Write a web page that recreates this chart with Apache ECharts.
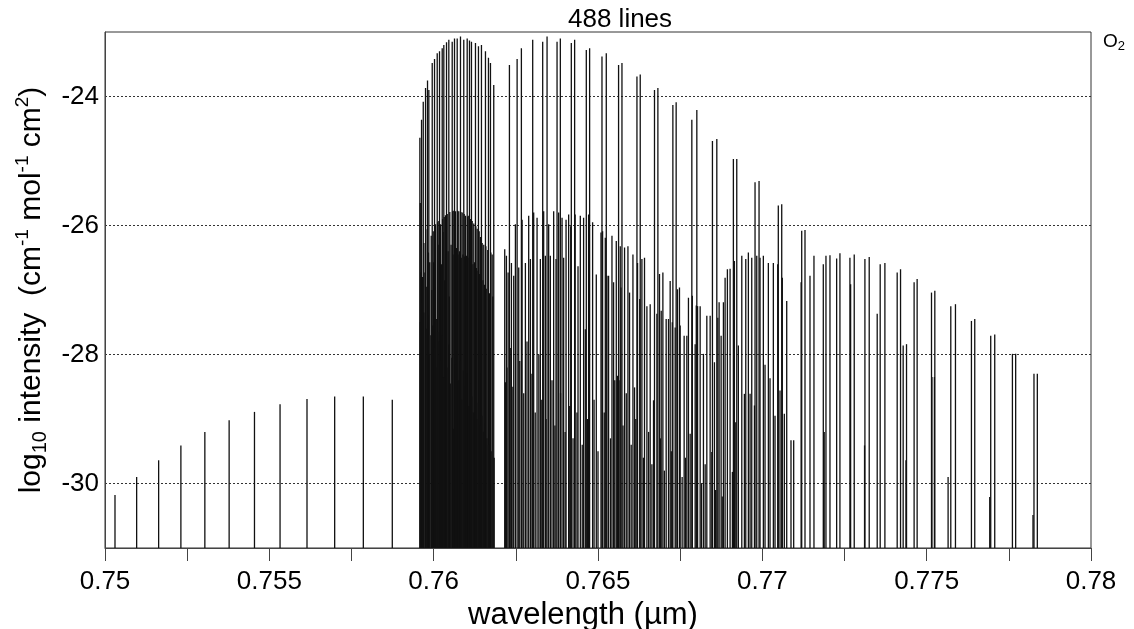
<!DOCTYPE html>
<html><head><meta charset="utf-8">
<script src="https://cdn.jsdelivr.net/npm/echarts@6/dist/echarts.min.js"></script>
<style>html,body{margin:0;padding:0;background:#fff}#chart{width:1134px;height:629px}</style>
</head><body><div id="chart"></div>
<script>
// ---------- data (wavelength in µm, log10 intensity) ----------
const titleText = '488 lines';
const moleculeLabel = 'O2';
const xTickLabels = ['0.75', '0.755', '0.76', '0.765', '0.77', '0.775', '0.78'];
const yTickLabels = ['-30', '-28', '-26', '-24'];

// weak lines left of the band
const weakWl = [0.750304, 0.750963, 0.751632, 0.752309, 0.753038, 0.753777, 0.754548, 0.755326, 0.756146, 0.756988, 0.757860, 0.758741];
const weakLog = [-30.18, -29.90, -29.64, -29.41, -29.20, -29.02, -28.89, -28.77, -28.69, -28.65, -28.65, -28.70];

// strong lines of the main band (R branch, P branch, high-J tail)
const mainWl = [
  0.759580, 0.759631, 0.759683, 0.759753, 0.759813, 0.759853, 0.759956, 0.760026, 0.760108, 0.760178,
  0.760260, 0.760309, 0.760391, 0.760461, 0.760564, 0.760634, 0.760716, 0.760816, 0.760916, 0.761020,
  0.761090, 0.761150, 0.761272, 0.761363, 0.761454, 0.761576, 0.761667, 0.761728, 0.761828,
  0.762305, 0.762539, 0.762669, 0.763013, 0.763317, 0.763450, 0.763754, 0.763854, 0.764188, 0.764289,
  0.764644, 0.764745, 0.765121, 0.765252, 0.765626, 0.765729, 0.766185, 0.766285, 0.766719, 0.766822,
  0.767278, 0.767378, 0.767855, 0.768007, 0.768482, 0.768615, 0.769119, 0.769222, 0.769778, 0.769900,
  0.770486, 0.770590, 0.771198, 0.771298, 0.771450, 0.771571,
  0.771855, 0.771936, 0.772058, 0.772261, 0.772361, 0.772665, 0.772686, 0.772796, 0.773121, 0.773252,
  0.773495, 0.773586, 0.773729, 0.774103, 0.774205, 0.774285, 0.774387, 0.774618, 0.774710, 0.775147,
  0.775248, 0.775734, 0.775876, 0.776362, 0.776463, 0.776949, 0.777071, 0.777609, 0.777708, 0.778265,
  0.778367
];
const mainLog = [
  -24.64, -24.36, -24.08, -23.87, -23.75, -23.90, -23.48, -23.42, -23.33, -23.30,
  -23.25, -23.20, -23.16, -23.12, -23.15, -23.10, -23.10, -23.07, -23.12, -23.10,
  -23.13, -23.15, -23.17, -23.22, -23.20, -23.30, -23.40, -23.48, -23.82,
  -23.51, -23.42, -23.25, -23.12, -23.15, -23.07, -23.15, -23.10, -23.17, -23.12,
  -23.28, -23.25, -23.38, -23.33, -23.51, -23.48, -23.69, -23.66, -23.90, -23.87,
  -24.13, -24.09, -24.36, -24.21, -24.69, -24.66, -24.97, -24.97, -25.33, -25.31,
  -25.69, -25.67, -26.08, -26.07, -26.78, -26.47,
  -26.60, -26.47, -26.46, -26.51, -26.43, -26.50, -26.91, -26.45, -26.52, -26.49,
  -27.37, -26.60, -26.58, -26.73, -26.68, -27.86, -27.84, -26.88, -26.83, -27.04,
  -27.01, -27.25, -27.22, -27.48, -27.45, -27.71, -27.69, -27.99, -27.99, -28.30,
  -28.30
];

// medium lines (isotopologue / secondary envelopes)
const isoWl = [
  0.759592, 0.759702, 0.759804, 0.759926, 0.759987, 0.760057, 0.760120, 0.760158, 0.760209, 0.760272,
  0.760321, 0.760360, 0.760412, 0.760491, 0.760576, 0.760613, 0.760664, 0.760728, 0.760764, 0.760828,
  0.760868, 0.760928, 0.760968, 0.761032, 0.761068, 0.761120, 0.761172, 0.761220, 0.761284, 0.761324,
  0.761384, 0.761424, 0.761476, 0.761524, 0.761588, 0.761646, 0.761740, 0.761780,
  0.759610, 0.759660, 0.759735, 0.759790, 0.759840, 0.759880, 0.759940, 0.760000, 0.760040, 0.760080,
  0.760135, 0.760185, 0.760235, 0.760285, 0.760335, 0.760385, 0.760440, 0.760475, 0.760530, 0.760590,
  0.760640, 0.760690, 0.760740, 0.760790, 0.760840, 0.760890, 0.760940, 0.760995, 0.761045, 0.761095,
  0.761145, 0.761195, 0.761245, 0.761300, 0.761350, 0.761400, 0.761450, 0.761500, 0.761550, 0.761600,
  0.761700, 0.761800,
  0.762162, 0.762214, 0.762265, 0.762366, 0.762436, 0.762487, 0.762588, 0.762691, 0.762791, 0.762891,
  0.762943, 0.763043, 0.763146, 0.763246, 0.763347, 0.763398, 0.763499, 0.763550, 0.763651, 0.763723,
  0.763803, 0.763906, 0.763955, 0.764028, 0.764107, 0.764170, 0.764305, 0.764392, 0.764462, 0.764562,
  0.764714, 0.764836,
  0.764948, 0.765091, 0.765140, 0.765222, 0.765273, 0.765322, 0.765425, 0.765474, 0.765556, 0.765677,
  0.765698, 0.765808, 0.765911, 0.765960, 0.766063, 0.766203, 0.766270, 0.766336, 0.766415, 0.766488,
  0.766588, 0.766792, 0.766871, 0.766923, 0.766974, 0.767074, 0.767145, 0.767196, 0.767260, 0.767348,
  0.767418, 0.767479, 0.767500, 0.767621, 0.767703, 0.767752, 0.767870, 0.767956, 0.768030,
  0.767990, 0.768108, 0.768311, 0.768412, 0.768646, 0.768685, 0.768746, 0.768816, 0.768867, 0.768937,
  0.769019, 0.769150, 0.769271, 0.769375, 0.769496, 0.769575, 0.769678, 0.769830, 0.769930, 0.770031,
  0.770183, 0.770335, 0.770468, 0.770608, 0.770742, 0.771180
];
const isoLog = [
  -25.65, -26.27, -26.06, -26.16, -26.09, -25.98, -25.95, -25.93, -25.98, -25.90,
  -25.87, -25.84, -25.82, -25.79, -25.78, -25.77, -25.78, -25.77, -25.78, -25.79,
  -25.80, -25.82, -25.85, -25.86, -25.85, -25.90, -25.93, -25.97, -26.01, -26.05,
  -26.09, -26.18, -26.27, -26.30, -26.32, -26.38, -26.42, -26.45,
  -26.73, -26.80, -26.73, -26.95, -26.42, -26.57, -27.00, -26.57, -26.94, -27.45,
  -26.30, -26.20, -26.60, -26.10, -26.85, -26.45, -26.40, -27.10, -26.30, -26.45,
  -26.42, -26.35, -26.45, -26.40, -26.50, -26.45, -26.48, -26.47, -26.50, -26.55,
  -26.52, -26.60, -26.57, -26.66, -26.70, -26.75, -28.30, -26.85, -26.92, -26.98,
  -27.05, -27.10,
  -26.37, -26.47, -26.73, -26.58, -26.78, -25.98, -26.65, -25.91, -26.58, -25.85,
  -26.52, -25.80, -25.88, -26.52, -25.78, -26.47, -25.98, -26.47, -25.78, -26.52,
  -25.80, -25.88, -26.50, -25.91, -25.83, -26.01, -25.83, -26.63, -25.85, -25.88,
  -25.83, -25.95,
  -26.76, -26.11, -26.09, -26.19, -26.78, -26.78, -26.16, -26.88, -26.24, -26.32,
  -26.96, -26.34, -26.32, -27.04, -26.45, -26.58, -27.14, -26.52, -26.50, -27.25,
  -27.22, -27.37, -26.75, -27.32, -26.73, -27.45, -27.45, -26.86, -27.50, -27.58,
  -26.99, -26.96, -27.55, -27.71, -27.71, -27.12, -27.09, -27.84, -27.25,
  -27.24, -27.25, -27.40, -27.40, -27.43, -27.19, -27.71, -27.19, -26.81, -26.68,
  -26.67, -26.55, -27.86, -26.47, -26.52, -26.42, -26.50, -26.47, -26.50, -26.47,
  -26.58, -26.58, -26.60, -26.81, -27.17, -26.88
];

// faint lines (lower tiers)
const faintWl = [
  0.759595, 0.759645, 0.759700, 0.759770, 0.759825, 0.759870, 0.759915, 0.759970, 0.760020, 0.760065,
  0.760120, 0.760170, 0.760215, 0.760250, 0.760300, 0.760350, 0.760400, 0.760455, 0.760505, 0.760555,
  0.760598, 0.760655, 0.760705, 0.760755, 0.760805, 0.760855, 0.760905, 0.760955, 0.761005, 0.761060,
  0.761110, 0.761160, 0.761210, 0.761260, 0.761310, 0.761360, 0.761410, 0.761465, 0.761515, 0.761565,
  0.761620, 0.761670, 0.761750, 0.761840,
  0.762183, 0.762230, 0.762330, 0.762410, 0.762620, 0.762740, 0.762840, 0.762990, 0.763090, 0.763200,
  0.763290, 0.763420, 0.763600, 0.763690, 0.763860, 0.764000, 0.764140, 0.764240, 0.764360, 0.764520,
  0.764614, 0.764680, 0.764880, 0.765000, 0.765190, 0.765380, 0.765510, 0.765595, 0.765610, 0.765640,
  0.765760, 0.765860, 0.766010, 0.766112, 0.766150, 0.766380, 0.766540, 0.766640, 0.766689, 0.766900,
  0.767020, 0.767230, 0.767560, 0.767660, 0.767804, 0.768150, 0.768208, 0.768260, 0.768463, 0.768543,
  0.768580, 0.768780,
  0.769089, 0.769192, 0.769454, 0.769627, 0.769760, 0.770082, 0.770234, 0.770386, 0.770538, 0.770669,
  0.770872, 0.770954,
  0.771868, 0.771880, 0.773110, 0.774370, 0.775160, 0.775235, 0.775652, 0.776919, 0.778235
];
const faintLog = [
  -27.50, -27.20, -27.35, -27.60, -27.40, -28.00, -27.70, -27.55, -27.90, -28.20,
  -27.65, -27.80, -28.10, -27.70, -28.35, -27.95, -28.20, -27.85, -28.45, -28.05,
  -29.15, -28.15, -27.95, -28.40, -28.10, -28.70, -28.25, -28.50, -28.30, -28.80,
  -28.45, -28.65, -28.90, -28.55, -29.00, -28.75, -29.10, -28.95, -29.20, -29.05,
  -29.30, -29.40, -29.50, -29.60,
  -28.43, -28.20, -27.90, -28.50, -28.10, -28.60, -27.80, -28.30, -28.90, -28.00,
  -28.70, -29.00, -28.40, -29.10, -28.60, -29.20, -28.80, -29.30, -28.90, -29.40,
  -27.61, -29.00, -28.70, -29.50, -28.90, -29.30, -28.40, -28.33, -28.35, -28.40,
  -29.10, -28.60, -29.40, -28.51, -29.00, -29.60, -29.20, -29.70, -28.71, -29.30,
  -29.80, -29.50, -29.90, -29.60, -29.23, -30.00, -27.99, -29.70, -29.51, -28.12,
  -30.10, -30.20,
  -29.82, -29.05, -28.61, -28.61, -28.79, -28.16, -28.37, -28.95, -28.56, -28.92,
  -29.33, -29.33,
  -29.20, -29.20, -29.41, -29.64, -28.35, -28.35, -29.90, -30.21, -30.49
];

// ---------- chart ----------
const FONT = '"Liberation Sans", Arial, Helvetica, sans-serif';
const Y_MIN = -31, Y_MAX = -23;

function pairs(w, v) { return w.map((x, i) => [x, v[i]]); }
const lineData = [].concat(pairs(weakWl, weakLog), pairs(mainWl, mainLog), pairs(isoWl, isoLog), pairs(faintWl, faintLog));

const chart = echarts.init(document.getElementById('chart'), null, { renderer: 'canvas' });
chart.setOption({
  animation: false,
  backgroundColor: '#fff',
  title: {
    text: titleText, left: 563, top: 2,
    textStyle: { fontFamily: FONT, fontSize: 26, fontWeight: 'normal', color: '#000' }
  },
  grid: {
    left: 105, right: 43, top: 32, bottom: 81, show: true, borderColor: '#333', borderWidth: 1,
    containLabel: false, outerBoundsMode: 'none'
  },
  xAxis: {
    type: 'value', min: 0.75, max: 0.78, interval: 0.0025,
    name: 'wavelength (µm)', nameLocation: 'middle', nameGap: 41,
    nameTextStyle: { fontFamily: FONT, fontSize: 31, color: '#000', padding: [0, 30, 0, 0] },
    axisLine: { show: true, onZero: false, lineStyle: { color: '#444', width: 1 } },
    axisTick: { show: true, length: 13, lineStyle: { color: '#444' } },
    axisLabel: {
      margin: 21, fontFamily: FONT, fontSize: 26, color: '#000', showMinLabel: true, showMaxLabel: true,
      formatter: function (v) {
        const s = String(Math.round(v * 10000) / 10000);
        return xTickLabels.indexOf(s) >= 0 ? s : '';
      }
    },
    splitLine: { show: false }
  },
  yAxis: {
    type: 'value', min: Y_MIN, max: Y_MAX, interval: 1,
    name: '{n|log}{sub|10}{n| intensity  (cm}{sup|-1}{n| mol}{sup|-1}{n| cm}{sup|2}{n|)}',
    nameLocation: 'middle', nameGap: 52,
    nameTextStyle: {
      fontFamily: FONT, fontSize: 30, color: '#000',
      rich: {
        n: { fontFamily: FONT, fontSize: 30, color: '#000', lineHeight: 37 },
        sub: { fontFamily: FONT, fontSize: 20, color: '#000', lineHeight: 20, verticalAlign: 'bottom' },
        sup: { fontFamily: FONT, fontSize: 19, color: '#000', lineHeight: 19, verticalAlign: 'top' }
      }
    },
    axisLine: { show: true, onZero: false, lineStyle: { color: '#444', width: 1 } },
    axisTick: { show: false },
    axisLabel: {
      margin: 6, fontFamily: FONT, fontSize: 26, color: '#000',
      formatter: function (v) {
        const s = String(Math.round(v));
        return yTickLabels.indexOf(s) >= 0 ? s : '';
      }
    },
    splitLine: { show: true, lineStyle: { color: ['rgba(0,0,0,0)', '#333'], type: [2, 2], width: 1 } }
  },
  graphic: [{
    type: 'text', left: 1103, top: 32,
    style: {
      text: '{a|' + moleculeLabel.charAt(0) + '}{b|' + moleculeLabel.charAt(1) + '}',
      rich: {
        a: { fontFamily: FONT, fontSize: 19, fill: '#000', lineHeight: 22 },
        b: { fontFamily: FONT, fontSize: 13, fill: '#000', lineHeight: 13, verticalAlign: 'bottom' }
      }
    }
  }],
  series: [{
    type: 'custom',
    clip: true,
    silent: true,
    encode: { x: 0, y: 1 },
    data: lineData,
    renderItem: function (params, api) {
      const x = api.value(0), v = api.value(1);
      const top = api.coord([x, v]);
      const base = api.coord([x, Y_MIN]);
      return {
        type: 'line',
        shape: { x1: base[0], y1: base[1], x2: top[0], y2: top[1] },
        style: { stroke: '#111', lineWidth: 1.3 }
      };
    }
  }]
});
</script>
</body></html>
